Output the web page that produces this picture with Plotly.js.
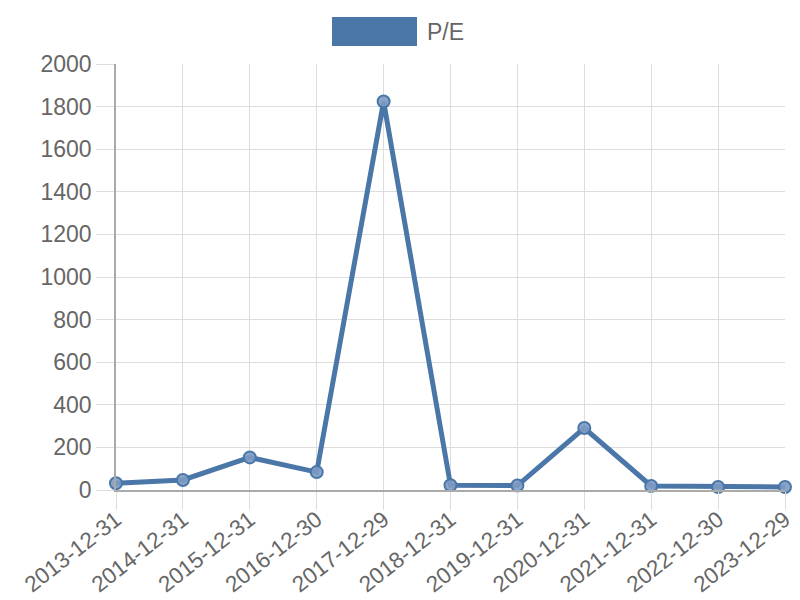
<!DOCTYPE html>
<html>
<head>
<meta charset="utf-8">
<script src="https://cdn.plot.ly/plotly-3.0.1.min.js"></script>
<style>html,body{margin:0;padding:0;background:#fff;}#chart{width:800px;height:600px;}</style>
</head>
<body>
<div id="chart"></div>
<script>
const dates = ["2013-12-31","2014-12-31","2015-12-31","2016-12-30","2017-12-29","2018-12-31","2019-12-31","2020-12-31","2021-12-31","2022-12-30","2023-12-29"];
const peValues = [32, 47, 153, 84, 1824, 22, 21, 291, 19, 14, 14];
const seriesName = "P/E";
const yTicks = [0,200,400,600,800,1000,1200,1400,1600,1800,2000];

const lineColor = "#4a76a8";
const trace = {
  x: dates, y: peValues, type: "scatter", mode: "lines+markers", name: seriesName,
  showlegend: false,
  line: {color: lineColor, width: 5, shape: "linear"},
  marker: {size: 12, color: "rgba(125,155,195,0.9)", line: {color: lineColor, width: 2}},
  cliponaxis: false
};
const layout = {
  width: 800, height: 600,
  margin: {l: 116, r: 15, t: 64, b: 110},
  paper_bgcolor: "#fff", plot_bgcolor: "#fff",
  font: {family: "Liberation Sans, Arial, sans-serif", color: "#666", size: 24},
  xaxis: {
    type: "category", tickvals: dates, ticktext: dates, tickangle: -38,
    range: [0, dates.length - 1],
    showgrid: true, gridcolor: "#ddd", gridwidth: 1,
    showline: true, linecolor: "#aaa", linewidth: 1.5,
    ticks: "outside", ticklen: 18, tickcolor: "#ddd", tickwidth: 1,
    ticklabelstandoff: -12,
    zeroline: false, tickfont: {size: 22.5, color: "#666"}
  },
  yaxis: {
    range: [0, 2000], tickvals: yTicks,
    showgrid: true, gridcolor: "#ddd", gridwidth: 1,
    showline: true, linecolor: "#aaa", linewidth: 1.5,
    ticks: "outside", ticklen: 18, tickcolor: "#ddd", tickwidth: 1,
    zeroline: false, tickfont: {size: 23, color: "#666"}
  },
  shapes: [{type: "rect", xref: "paper", yref: "paper",
    x0: (332-116)/669, x1: (417-116)/669, y0: (600-110-46)/426, y1: (600-110-17)/426,
    fillcolor: lineColor, line: {width: 0}}],
  annotations: [{xref: "paper", yref: "paper", x: (425-116)/669, y: (600-110-32)/426,
    xanchor: "left", yanchor: "middle", text: seriesName, showarrow: false,
    font: {size: 23, color: "#666"}}],
  showlegend: false
};
Plotly.newPlot("chart", [trace], layout, {displayModeBar: false});
</script>
</body>
</html>
